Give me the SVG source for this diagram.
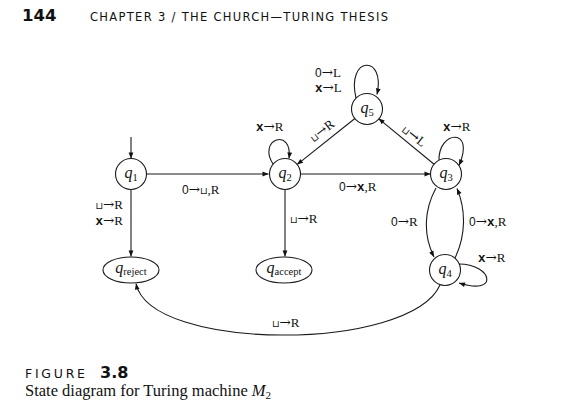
<svg xmlns="http://www.w3.org/2000/svg" width="575" height="404" viewBox="0 0 575 404">
<style>
.edge{fill:none;stroke:#1a1a1a;stroke-width:1.1}
.node{fill:#fff;stroke:#1a1a1a;stroke-width:1.1}
.st{font-family:"Liberation Serif",serif;font-style:italic;font-size:16px;fill:#111}
.sub{font-size:10.5px;font-style:normal}
.lb{font-family:"Liberation Serif",serif;font-size:13px;fill:#111}
.ar{font-family:"DejaVu Serif",serif;font-size:13.5px}
.tt{font-family:"Liberation Sans",sans-serif;font-size:12px}
.tb{font-family:"Liberation Mono",monospace;font-size:12.5px;font-weight:bold}
.bl{font-family:"DejaVu Sans",sans-serif;font-size:9.5px}
</style>
<defs>
<marker id="ah" viewBox="0 0 10 10" refX="10" refY="5" markerWidth="7" markerHeight="6" markerUnits="userSpaceOnUse" orient="auto">
<path d="M0,1 L10,5 L0,9 Z" fill="#111"/>
</marker>
</defs>
<rect width="575" height="404" fill="#fff"/>
<text x="22" y="21" font-family="DejaVu Sans,sans-serif" font-weight="bold" font-size="16.5" fill="#111">144</text>
<text x="90" y="21" font-family="DejaVu Sans,sans-serif" font-size="11.5" fill="#111" textLength="298" lengthAdjust="spacing">CHAPTER 3 / THE CHURCH—TURING THESIS</text>

<g id="connectors">
<path class="edge" d="M131,137 L131,158.5" marker-end="url(#ah)"/>
<path class="edge" d="M147,174 L268.5,174" marker-end="url(#ah)"/>
<path class="edge" d="M131,190 L131,256.5" marker-end="url(#ah)"/>
<path class="edge" d="M285,190 L285,256.5" marker-end="url(#ah)"/>
<path class="edge" d="M300,174 L430.5,174" marker-end="url(#ah)"/>
<path class="edge" d="M355.2,118.3 L297,164.6" marker-end="url(#ah)"/>
<path class="edge" d="M434.4,164.5 L378.6,118.6" marker-end="url(#ah)"/>
<path class="edge" d="M356,98 C346,56 386,54 377,94.5" marker-end="url(#ah)"/>
<path class="edge" d="M273,164 C257,139 293,127 289,158.5" marker-end="url(#ah)"/>
<path class="edge" d="M439,161 C438,130 476,127 459,165.5" marker-end="url(#ah)"/>
<path class="edge" d="M436,188 C424,210 423,235 434,257" marker-end="url(#ah)"/>
<path class="edge" d="M455,258 C466,235 466,210 457,188.5" marker-end="url(#ah)"/>
<path class="edge" d="M459,264 C492,264 500,296 459,283" marker-end="url(#ah)"/>
<path class="edge" d="M440,285 C410,352 150,352 136,283.5" marker-end="url(#ah)"/>

<text class="lb" x="182" y="194"><tspan class="tt">0</tspan><tspan class="ar">→</tspan><tspan class="bl">⊔</tspan>,R</text>
<text class="lb" x="123" y="209" text-anchor="end"><tspan class="bl">⊔</tspan><tspan class="ar">→</tspan>R</text>
<text class="lb" x="123" y="225" text-anchor="end"><tspan class="tb">x</tspan><tspan class="ar">→</tspan>R</text>
<text class="lb" x="290" y="223"><tspan class="bl">⊔</tspan><tspan class="ar">→</tspan>R</text>
<text class="lb" x="256" y="131"><tspan class="tb">x</tspan><tspan class="ar">→</tspan>R</text>
<text class="lb" x="339" y="191"><tspan class="tt">0</tspan><tspan class="ar">→</tspan><tspan class="tb">x</tspan>,R</text>
<text class="lb" x="322" y="135" text-anchor="middle" transform="rotate(-38 322 131)"><tspan class="bl">⊔</tspan><tspan class="ar">→</tspan>R</text>
<text class="lb" x="414" y="140" text-anchor="middle" transform="rotate(38 414 136)"><tspan class="bl">⊔</tspan><tspan class="ar">→</tspan>L</text>
<text class="lb" x="315" y="77"><tspan class="tt">0</tspan><tspan class="ar">→</tspan>L</text>
<text class="lb" x="315" y="92"><tspan class="tb">x</tspan><tspan class="ar">→</tspan>L</text>
<text class="lb" x="443" y="131"><tspan class="tb">x</tspan><tspan class="ar">→</tspan>R</text>
<text class="lb" x="391" y="226"><tspan class="tt">0</tspan><tspan class="ar">→</tspan>R</text>
<text class="lb" x="469" y="226"><tspan class="tt">0</tspan><tspan class="ar">→</tspan><tspan class="tb">x</tspan>,R</text>
<text class="lb" x="478" y="262"><tspan class="tb">x</tspan><tspan class="ar">→</tspan>R</text>
<text class="lb" x="272" y="327"><tspan class="bl">⊔</tspan><tspan class="ar">→</tspan>R</text>
</g>

<g id="q1"><circle class="node" cx="131" cy="174" r="15.5"/><text class="st" x="131" y="178" text-anchor="middle">q<tspan class="sub" dy="3">1</tspan></text></g>
<g id="q2"><circle class="node" cx="285" cy="174" r="15.5"/><text class="st" x="285" y="178" text-anchor="middle">q<tspan class="sub" dy="3">2</tspan></text></g>
<g id="q3"><circle class="node" cx="446" cy="174" r="15.5"/><text class="st" x="446" y="178" text-anchor="middle">q<tspan class="sub" dy="3">3</tspan></text></g>
<g id="q4"><circle class="node" cx="445" cy="270" r="15.5"/><text class="st" x="445" y="274" text-anchor="middle">q<tspan class="sub" dy="3">4</tspan></text></g>
<g id="q5"><circle class="node" cx="367" cy="109" r="15.5"/><text class="st" x="367" y="113" text-anchor="middle">q<tspan class="sub" dy="3">5</tspan></text></g>
<g id="qreject"><ellipse class="node" cx="131" cy="270" rx="28" ry="13"/><text class="st" x="131" y="273" text-anchor="middle">q<tspan class="sub" dy="2">reject</tspan></text></g>
<g id="qaccept"><ellipse class="node" cx="284" cy="270" rx="28" ry="13"/><text class="st" x="284" y="273" text-anchor="middle">q<tspan class="sub" dy="2">accept</tspan></text></g>

<text x="25" y="378" font-family="DejaVu Sans,sans-serif" font-size="12.5" fill="#111" textLength="60" lengthAdjust="spacing">FIGURE</text>
<text x="100" y="378" font-family="DejaVu Sans,sans-serif" font-weight="bold" font-size="16" fill="#111">3.8</text>
<text x="25" y="396" font-family="Liberation Serif,serif" font-size="16.5" fill="#111">State diagram for Turing machine <tspan font-style="italic">M</tspan><tspan font-size="11" dy="3">2</tspan></text>
</svg>
